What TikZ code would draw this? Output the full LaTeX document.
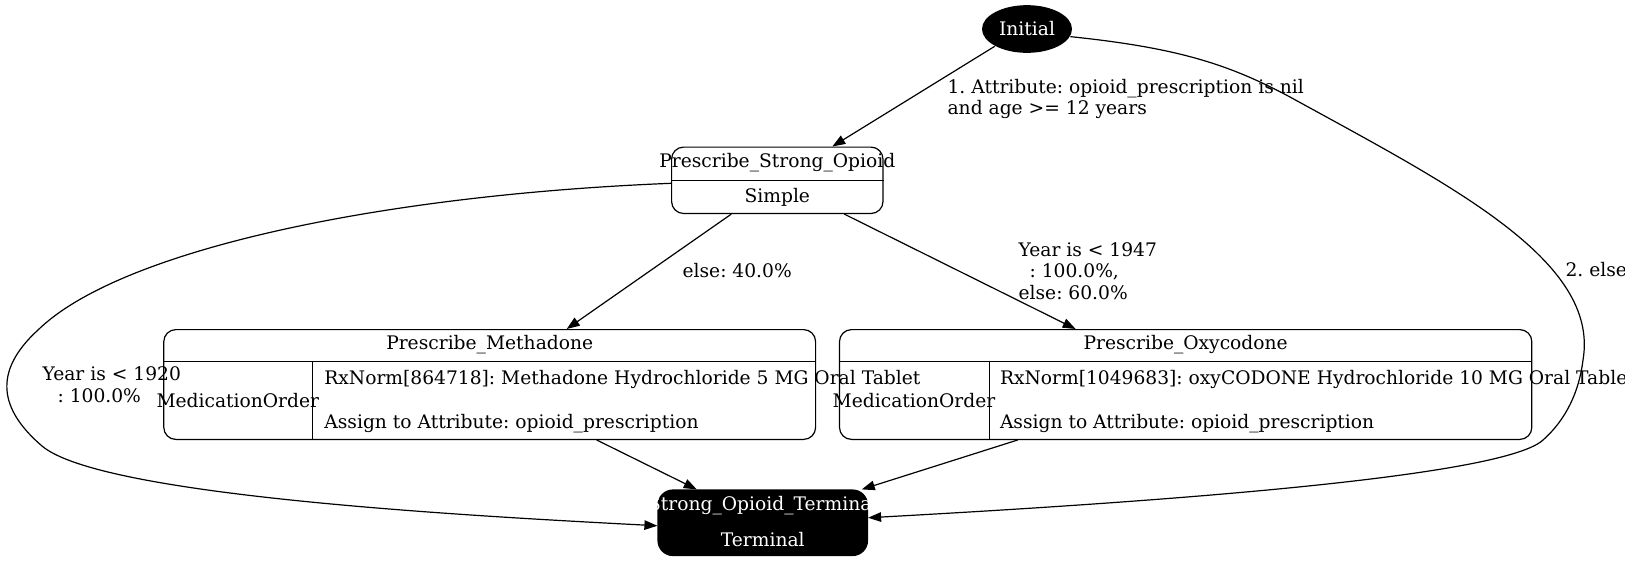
\documentclass[tikz,border=0pt]{standalone}
\usepackage{fontspec}
\setmainfont{DejaVu Serif}
\usetikzlibrary{arrows.meta,positioning,calc,shapes.geometric}
\frenchspacing

\begin{document}
\begin{tikzpicture}[x=1pt,y=-1pt,line width=1.2pt,>={Triangle[length=13pt,width=9.5pt]},
   every node/.style={font=\fontsize{18.67}{21.8}\selectfont},
   start/.style={ellipse,fill=black,text=white,minimum width=90pt,minimum height=47.7pt,inner sep=0pt},
   rec/.style={draw,rounded corners=12pt,inner sep=0pt},
   term/.style={rec,fill=black,rounded corners=15pt},
   txt/.style={inner sep=0pt},
   lbl/.style={inner sep=0pt,anchor=west,align=left}]
   \useasboundingbox (0,0) rectangle (1625,563);

   % states
   \node[start] (init) at (1027,29) {Initial};
   \node[rec,minimum width=211.4pt,minimum height=66.4pt] (strong) at (777.3,180.3) {};
   \node[rec,minimum width=651.8pt,minimum height=109.8pt] (methadone) at (489.7,384.5) {};
   \node[rec,minimum width=692.3pt,minimum height=109.8pt] (oxycodone) at (1185.65,384.5) {};
   \node[term,minimum width=209.5pt,minimum height=65.5pt] (terminal) at (762.75,522.75) {};

   % record fields
   \draw (strong.west) -- (strong.east);
   \node[txt] (strongname) at ($(strong.north)+(0,16.6)$) {Prescribe\_Strong\_Opioid};
   \node[txt] (strongkind) at ($(strong.south)+(0,-16.6)$) {Simple};

   \draw ($(methadone.north west)+(0,32.1)$) -- ($(methadone.north east)+(0,32.1)$);
   \draw ($(methadone.south west)+(149.2,0)$) -- ($(methadone.north west)+(149.2,32.1)$);
   \node[txt] (methname) at ($(methadone.north)+(0,16)$) {Prescribe\_Methadone};
   \node[txt] (methkind) at ($(methadone.south west)+(74.6,-39)$) {MedicationOrder};
   \node[txt,anchor=west,align=left] (methdrug) at ($(methadone.south west)+(160.6,-38.5)$)
      {RxNorm[864718]: Methadone Hydrochloride 5 MG Oral Tablet\\\mbox{}\\Assign to Attribute: opioid\_prescription};

   \draw ($(oxycodone.north west)+(0,32.1)$) -- ($(oxycodone.north east)+(0,32.1)$);
   \draw ($(oxycodone.south west)+(150.3,0)$) -- ($(oxycodone.north west)+(150.3,32.1)$);
   \node[txt] (oxyname) at ($(oxycodone.north)+(0,16)$) {Prescribe\_Oxycodone};
   \node[txt] (oxykind) at ($(oxycodone.south west)+(75.1,-39)$) {MedicationOrder};
   \node[txt,anchor=west,align=left] (oxydrug) at ($(oxycodone.south west)+(160.5,-38.5)$)
      {RxNorm[1049683]: oxyCODONE Hydrochloride 10 MG Oral Tablet\\\mbox{}\\Assign to Attribute: opioid\_prescription};

   \node[txt,text=white] (termname) at ($(terminal.north)+(0,16)$) {Strong\_Opioid\_Terminal};
   \node[txt,text=white] (termkind) at ($(terminal.south)+(0,-16.5)$) {Terminal};

   % transitions
   \path[->]
    (init.south west) edge ($(strong.north)+(55,0)$)
    ($(strong.south)+(-46,0)$) edge ($(methadone.north)+(77,0)$)
    ($(strong.south)+(67,0)$) edge ($(oxycodone.north)+(-110,0)$)
    ($(methadone.south)+(107,0)$) edge ($(terminal.north)+(-66,0)$)
    ($(oxycodone.south)+(-168,0)$) edge ($(terminal.north)+(99,0)$);

   \draw[->] (init.-10) .. controls (1180,48) and (1230,65) .. (1290,97)
      .. controls (1450,185) and (1600,260) .. (1583,360)
      .. controls (1578,400) and (1560,425) .. (1543,440)
      .. controls (1500,480) and (1100,505) .. ($(terminal.east)+(0,-5)$);
   \draw[->] ($(strong.west)+(0,3)$) .. controls (380,195) and (120,250) .. (38,330)
      .. controls (-8,372) and (0,410) .. (42,446)
      .. controls (100,495) and (450,515) .. ($(terminal.west)+(0,3)$);

   % labels
   \node[lbl] (lfirst) at (947,99) {1. Attribute: opioid\_prescription is nil\\and age >= 12 years};
   \node[lbl] (lelse) at (1565,270) {2. else};
   \node[lbl] (lmeth) at (682,271) {else: 40.0\%};
   \node[lbl] (loxy) at (1018,271) {Year is < 1947\\\hspace*{11pt}: 100.0\%,\\else: 60.0\%};
   \node[lbl] (lterm) at (42,385) {Year is < 1920\\\hspace*{15pt}: 100.0\%};
\end{tikzpicture}
\end{document}
